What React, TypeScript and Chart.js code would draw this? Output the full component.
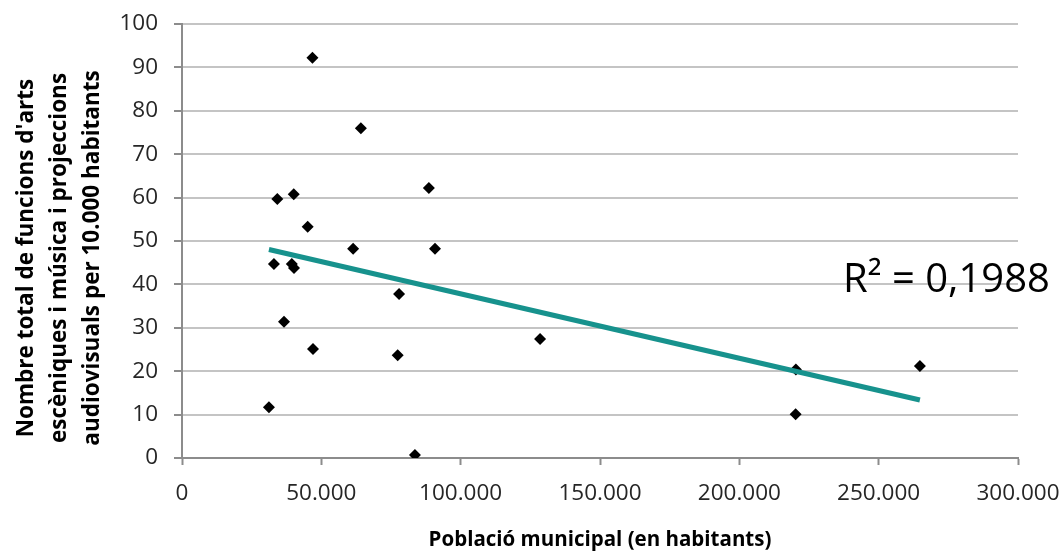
import React, { useEffect, useRef } from 'react';
import { Chart, registerables } from 'chart.js';

Chart.register(...registerables);

// Data (population, functions per 10.000 inhabitants)
const population = [46800, 64200, 34200, 40100, 88600, 45100, 61400, 90800, 33000, 39400, 40200, 77900, 36600, 47000, 77400, 128500, 31200, 83600, 220300, 220200, 264800];
const functionsPer10k = [92.2, 76.0, 59.7, 60.8, 62.2, 53.3, 48.2, 48.2, 44.7, 44.7, 43.8, 37.8, 31.4, 25.1, 23.7, 27.4, 11.7, 0.7, 20.4, 10.1, 21.2];

const yTitleLines = ["Nombre total de funcions d'arts", 'escèniques i música i projeccions', 'audiovisuals per 10.000 habitants'];
const xTitle = 'Població municipal (en habitants)';
const r2Label = 'R² = 0,1988';

const xMin = 0;
const xMax = 300000;
const xStep = 50000;
const yMin = 0;
const yMax = 100;
const yStep = 10;

const FONT = '"Open Sans", "DejaVu Sans", sans-serif';

function fmtThousands(v: number): string {
  return String(Math.round(v)).replace(/\B(?=(\d{3})+(?!\d))/g, '.');
}

function linearFit(xs: number[], ys: number[]) {
  const n = xs.length;
  const mx = xs.reduce((a, b) => a + b, 0) / n;
  const my = ys.reduce((a, b) => a + b, 0) / n;
  let sxy = 0;
  let sxx = 0;
  for (let i = 0; i < n; i++) {
    sxy += (xs[i] - mx) * (ys[i] - my);
    sxx += (xs[i] - mx) * (xs[i] - mx);
  }
  const slope = sxy / sxx;
  return { slope, intercept: my - slope * mx };
}

function zeroPadding(scale: any) {
  scale.paddingTop = 0;
  scale.paddingBottom = 0;
  scale.paddingLeft = 0;
  scale.paddingRight = 0;
}

const annotationPlugin = {
  id: 'extraTexts',
  afterDraw(chart: any) {
    const { ctx, chartArea } = chart;
    ctx.save();
    // Y axis title (three lines, rotated)
    ctx.fillStyle = '#000000';
    ctx.font = `bold 22.5px ${FONT}`;
    ctx.textAlign = 'center';
    ctx.textBaseline = 'middle';
    const cy = (chartArea.top + chartArea.bottom) / 2 + 17;
    const xs = [27, 60, 93];
    yTitleLines.forEach((line, i) => {
      ctx.save();
      ctx.translate(xs[i], cy);
      ctx.rotate(-Math.PI / 2);
      ctx.fillText(line, 0, 0);
      ctx.restore();
    });
    // R² label
    ctx.font = `40px ${FONT}`;
    ctx.textAlign = 'left';
    ctx.textBaseline = 'alphabetic';
    ctx.fillStyle = '#000000';
    ctx.fillText(r2Label, chartArea.right - 175, chartArea.top + 268);
    ctx.restore();
  },
};

export default function App() {
  const ref = useRef<HTMLCanvasElement | null>(null);

  useEffect(() => {
    if (!ref.current) return;
    const points = population.map((x, i) => ({ x, y: functionsPer10k[i] }));
    const { slope, intercept } = linearFit(population, functionsPer10k);
    const lo = Math.min(...population);
    const hi = Math.max(...population);
    const trend = [
      { x: lo, y: intercept + slope * lo },
      { x: hi, y: intercept + slope * hi },
    ];

    const chart = new Chart(ref.current, {
      type: 'scatter',
      data: {
        datasets: [
          {
            type: 'line',
            label: 'Tendència',
            data: trend,
            borderColor: '#17928D',
            borderWidth: 5,
            pointRadius: 0,
            showLine: true,
            fill: false,
            order: 0,
          } as any,
          {
            label: 'Municipis',
            data: points,
            pointStyle: 'rectRot',
            pointRadius: 6,
            backgroundColor: '#000000',
            borderColor: '#000000',
            borderWidth: 0,
            order: 1,
          },
        ],
      },
      options: {
        animation: false,
        responsive: false,
        maintainAspectRatio: false,
        layout: { padding: { top: 24, right: 44, left: 0, bottom: 0 } },
        plugins: {
          legend: { display: false },
          tooltip: { enabled: false },
        },
        scales: {
          x: {
            type: 'linear',
            min: xMin,
            max: xMax,
            afterFit: (scale: any) => {
              scale.height = 98;
              zeroPadding(scale);
            },
            ticks: {
              stepSize: xStep,
              color: '#262626',
              font: { family: FONT, size: 22.5 },
              padding: 15,
              maxRotation: 0,
              callback: (v: any) => fmtThousands(Number(v)),
            },
            grid: {
              drawOnChartArea: false,
              tickLength: 7,
              tickColor: '#8c8c8c',
              tickWidth: 2,
            },
            border: { color: '#8c8c8c', width: 2 },
            title: {
              display: true,
              text: xTitle,
              color: '#000000',
              font: { family: FONT, size: 20.5, weight: 'bold' },
              padding: { top: 0, bottom: 4 },
            },
          },
          y: {
            type: 'linear',
            min: yMin,
            max: yMax,
            afterFit: (scale: any) => {
              scale.width = 182;
              zeroPadding(scale);
            },
            ticks: {
              stepSize: yStep,
              color: '#262626',
              font: { family: FONT, size: 22.5 },
              padding: 16,
            },
            grid: {
              color: '#c4c4c4',
              lineWidth: 2,
              tickLength: 8,
              tickColor: '#8c8c8c',
              tickWidth: 2,
            },
            border: { color: '#8c8c8c', width: 2 },
          },
        },
      },
      plugins: [annotationPlugin],
    });
    return () => chart.destroy();
  }, []);

  return (
    <div style={{ position: 'fixed', left: 0, top: 0, width: 1062, height: 556, background: '#ffffff' }}>
      <canvas ref={ref} width={1062} height={556} style={{ width: 1062, height: 556 }} />
    </div>
  );
}
